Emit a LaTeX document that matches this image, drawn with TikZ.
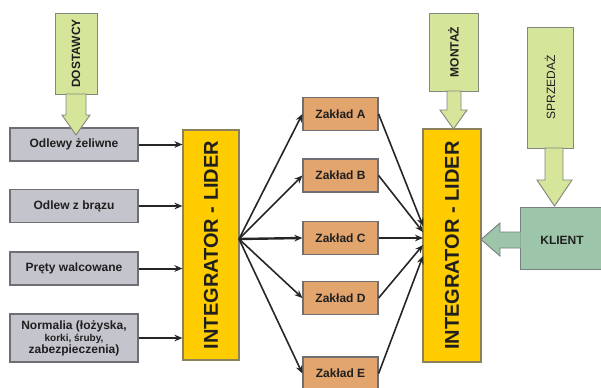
\documentclass[tikz,border=0pt]{standalone}
\usepackage{fontspec}
\setmainfont{Liberation Sans}
\usetikzlibrary{arrows.meta,positioning,calc}
\definecolor{boxgrey}{HTML}{C4C4CC}
\definecolor{edgegrey}{HTML}{6E6E74}
\definecolor{lideryel}{HTML}{FFCC00}
\definecolor{zakorange}{HTML}{E3A56E}
\definecolor{stagegreen}{HTML}{D5E69B}
\definecolor{klientteal}{HTML}{9DC5A9}

\tikzset{
  srcbox/.style={draw=edgegrey,fill=boxgrey,line width=1pt,minimum width=96pt,minimum height=24.75pt,inner sep=1pt,align=center,font=\fontsize{9}{10}\selectfont\bfseries},
  liderbox/.style={draw=edgegrey!80!lideryel,fill=lideryel,line width=.9pt,inner sep=0pt},
  lidertext/.style={rotate=90,font=\fontsize{15}{16}\selectfont\bfseries},
  zakbox/.style={draw=edgegrey,fill=zakorange,line width=.9pt,minimum width=56.25pt,minimum height=24.75pt,inner sep=0pt,font=\fontsize{9}{10}\selectfont\bfseries},
  stagebox/.style={draw=edgegrey!80!stagegreen,fill=stagegreen,line width=.7pt,inner sep=0pt},
  stagetext/.style={rotate=90,font=\fontsize{9}{10}\selectfont\bfseries},
  blockarrow/.style={draw=edgegrey!80!stagegreen,fill=stagegreen,line width=.7pt},
  conn/.style={-{Stealth[length=6pt,width=5pt]},line width=1pt,black!85},
}

\begin{document}
\begin{tikzpicture}[x=.75pt,y=-.75pt,text=black!88]
\useasboundingbox (0,0) rectangle (601,387);

% suppliers
\node[srcbox] (odl1) at (74,144.5){Odlewy żeliwne};
\node[srcbox] (odl2) at (74,206){Odlew z brązu};
\node[srcbox] (odl3) at (74,268.5){Pręty walcowane};
\node[srcbox,minimum height=36pt,inner sep=0pt] (odl4) at (74,338){Normalia (łożyska,\\[-1pt]{\fontsize{7.5}{8}\selectfont korki, śruby,}\\[-1pt]zabezpieczenia)};

% integrators
\node[liderbox,minimum width=42pt,minimum height=172.5pt] (int1) at (211,245){};
\node[lidertext] at (int1){INTEGRATOR - LIDER};
\node[liderbox,minimum width=43.5pt,minimum height=174.75pt] (int2) at (452,245.5){};
\node[lidertext] at (int2){INTEGRATOR - LIDER};

% plants
\foreach \n/\y in {A/114,B/175.5,C/238,D/298,E/373.5}
  \node[zakbox] (zak\n) at (340.5,\y){Zakład \n};

% top stages
\node[stagebox,minimum width=31.5pt,minimum height=60.75pt] (dost) at (76,53.5){};
\node[stagetext] at (dost){DOSTAWCY};
\node[stagebox,minimum width=36.75pt,minimum height=58.5pt] (mont) at (453.5,52){};
\node[stagetext] at (mont){MONTAŻ};
\node[stagebox,minimum width=34.5pt,minimum height=90.75pt] (sprz) at (550,87.5){};
\node[stagetext,font=\fontsize{9}{10}\selectfont] at (sprz){SPRZEDAŻ};

% block arrows
\draw[blockarrow] (66,94)--(86,94)--(86,115)--(90,115)--(76,135)--(62,115)--(66,115)--cycle;
\draw[blockarrow] (447,91)--(461,91)--(461,110)--(467,110)--(453.5,129)--(440,110)--(447,110)--cycle;
\draw[blockarrow] (545,148)--(563,148)--(563,180)--(572,180)--(554.5,206)--(537,180)--(545,180)--cycle;

% client
\node[draw=edgegrey!80!klientteal,fill=klientteal,line width=.7pt,minimum width=67.5pt,minimum height=46.5pt,inner sep=0pt] (kli) at (565,238){};
\node[font=\fontsize{9}{10}\selectfont\bfseries] at (562,240){KLIENT};
\draw[draw=edgegrey!80!klientteal,fill=klientteal,line width=.7pt] (520.5,232)--(500,232)--(500,223)--(481,239.5)--(500,256)--(500,248)--(520.5,248);

% connectors
\foreach \s in {odl1,odl2,odl3,odl4}
  \draw[conn,line width=1.5pt] (\s.east) -- (int1.west |- \s.east);
\coordinate (fan) at (239,239);
\foreach \n in {A,B,D,E}
  \draw[conn,line width=1.2pt] (fan) -- (zak\n.west);
\draw[conn,line width=1.8pt] (fan) -- (zakC.west);
\coordinate (inA) at (423,226);
\coordinate (inB) at (423,232);
\coordinate (inC) at (423,238);
\coordinate (inD) at (423,245);
\coordinate (inE) at (423,256);
\foreach \n in {A,B,D,E}
  \draw[conn,line width=1.2pt] (zak\n.east) -- (in\n);
\draw[conn,line width=1.8pt] (zakC.east) -- (inC);
\end{tikzpicture}
\end{document}
